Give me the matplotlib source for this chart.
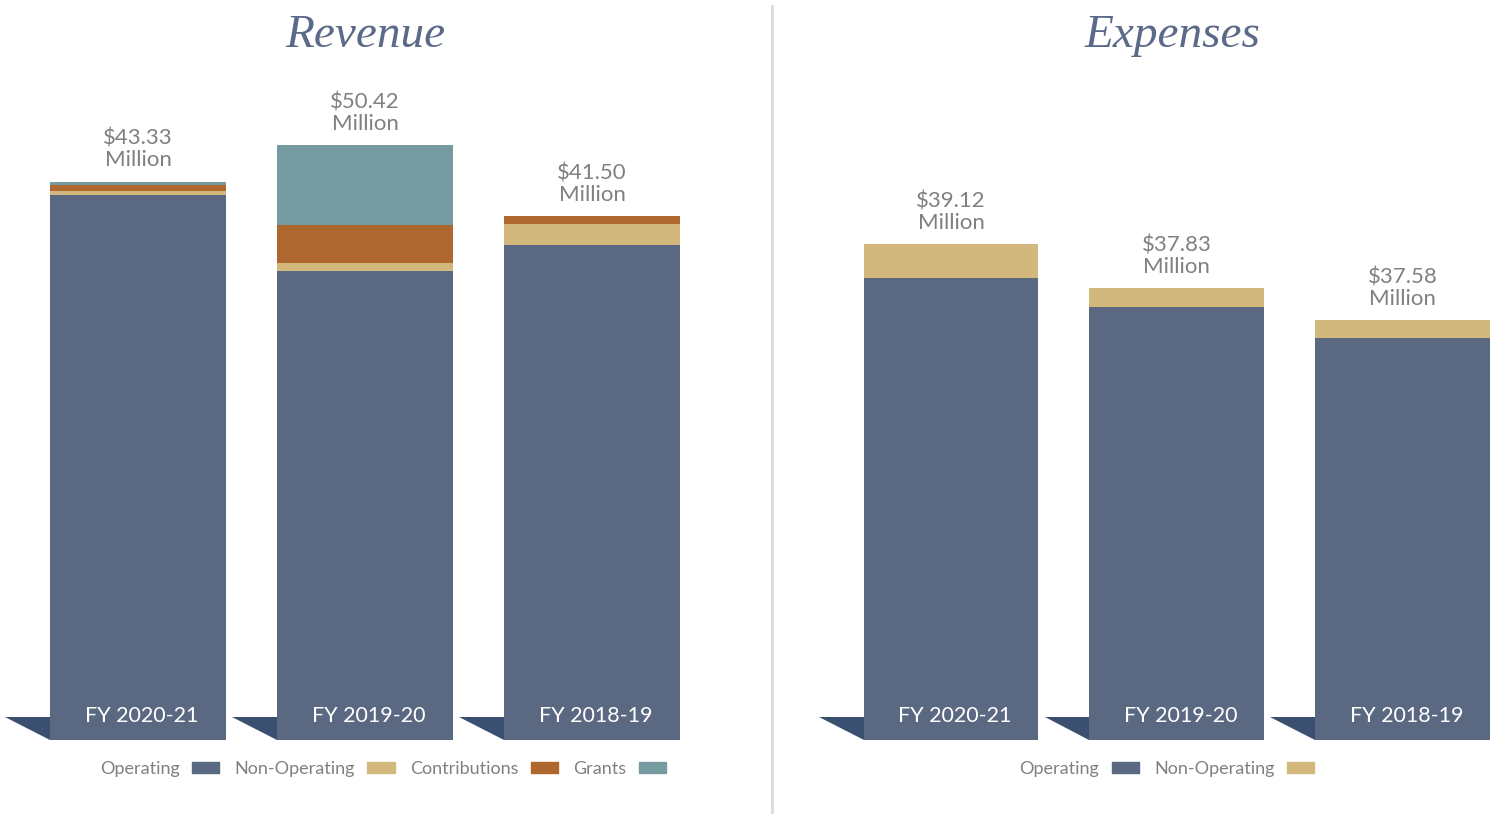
import matplotlib
matplotlib.use("Agg")
import matplotlib.pyplot as plt
from matplotlib.patches import Patch, Polygon

# === DATA (millions, as drawn) ===
years = ["FY 2020-21", "FY 2019-20", "FY 2018-19"]

rev_operating = [42.25, 36.36, 38.37]
rev_nonoperating = [0.30, 0.62, 1.63]
rev_contributions = [0.47, 2.95, 0.62]
rev_grants = [0.30, 6.20, 0.00]
rev_totals = ["$43.33", "$50.42", "$41.50"]

exp_operating = [35.80, 33.57, 31.16]
exp_nonoperating = [2.64, 1.47, 1.40]
exp_totals = ["$39.12", "$37.83", "$37.58"]

# === STYLE ===
C_OP = "#5b6882"
C_NONOP = "#d3b87e"
C_CONTRIB = "#ae672f"
C_GRANT = "#759ba1"
C_FOLD = "#3b5070"
C_TEXT = "#808080"
C_TITLE = "#5b6a88"

W, H = 1496, 814
fig = plt.figure(figsize=(W / 100, H / 100), dpi=100)
plt.rcParams['font.family'] = ['Lato', 'DejaVu Sans']


def make_axes(left_px, right_px, x0_px, step):
    ax = fig.add_axes([left_px / W, 74 / H, (right_px - left_px) / W, 740 / H])
    ax.set_xlim(-(x0_px - left_px) / step, (right_px - x0_px) / step)
    ax.set_ylim(0, 57.4)
    ax.axis('off')
    return ax


def draw_stack(ax, series, colors, totals):
    x = list(range(len(years)))
    bottom = [0.0] * len(years)
    first = None
    for vals, col in zip(series, colors):
        bars = ax.bar(x, vals, width=0.775, bottom=bottom, color=col, zorder=2)
        if first is None:
            first = bars
        bottom = [b + v for b, v in zip(bottom, vals)]
    # folded ribbon corner at bottom-left of each bar
    for rect in first:
        bx = rect.get_x()
        tri = Polygon([(bx - 0.198, 1.78), (bx, 1.78), (bx, 0)],
                      closed=True, color=C_FOLD, zorder=1, lw=0)
        ax.add_patch(tri)
    for i, lab in enumerate(years):
        ax.annotate(lab, xy=(i, 0), xytext=(3, 17), textcoords='offset points',
                    ha='center', va='center', color='white', fontsize=15.5, zorder=3)
    for i, t in enumerate(totals):
        ax.annotate(f"{t}\nMillion", xy=(i, bottom[i]), xytext=(0, 8),
                    textcoords='offset points', ha='center', va='bottom',
                    color=C_TEXT, fontsize=16, linespacing=1.12)


ax1 = make_axes(0, 760, 138, 227.0)
draw_stack(ax1, [rev_operating, rev_nonoperating, rev_contributions, rev_grants],
           [C_OP, C_NONOP, C_CONTRIB, C_GRANT], rev_totals)

ax2 = make_axes(780, 1496, 951, 225.7)
draw_stack(ax2, [exp_operating, exp_nonoperating], [C_OP, C_NONOP], exp_totals)

# titles
fig.text(365 / W, 1 - 36 / H, "Revenue", ha='center', va='center',
         fontsize=34, color=C_TITLE, family='Liberation Serif', style='italic')
fig.text(1172 / W, 1 - 36 / H, "Expenses", ha='center', va='center',
         fontsize=34, color=C_TITLE, family='Liberation Serif', style='italic')

# divider
fig.add_artist(plt.Line2D([772 / W, 772 / W], [0, 1 - 6 / H], color='#dcdcdc', lw=2))

# legends
leg_kw = dict(loc='center', ncol=4, markerfirst=False, frameon=False, fontsize=13,
              handlelength=1.5, handleheight=0.55, handletextpad=0.7,
              columnspacing=0.85, labelcolor=C_TEXT, bbox_transform=fig.transFigure)
h1 = [Patch(color=c) for c in [C_OP, C_NONOP, C_CONTRIB, C_GRANT]]
fig.legend(h1, ["Operating", "Non-Operating", "Contributions", "Grants"],
           bbox_to_anchor=(383 / W, 1 - 769 / H), **leg_kw)
h2 = [Patch(color=c) for c in [C_OP, C_NONOP]]
fig.legend(h2, ["Operating", "Non-Operating"],
           bbox_to_anchor=(1167 / W, 1 - 769 / H), **leg_kw)

fig.savefig("out.png", dpi=100, facecolor='white')
